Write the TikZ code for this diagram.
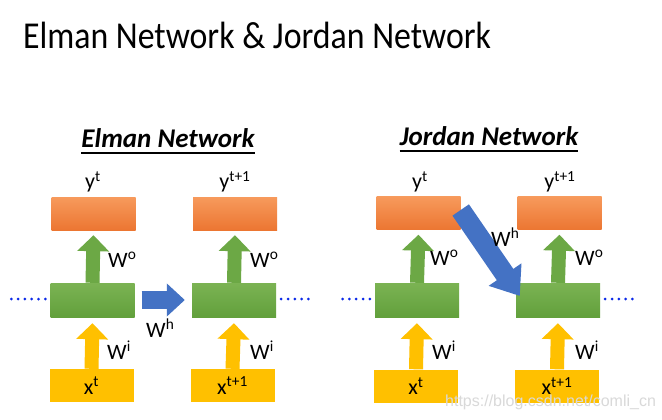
\documentclass[tikz,border=0pt]{standalone}
\usepackage{fontspec}
\setmainfont{Carlito}
\newfontfamily\wmfont{Liberation Sans}
\usetikzlibrary{arrows.meta,calc}
\definecolor{orT}{HTML}{F79A5C}
\definecolor{orB}{HTML}{EC7632}
\definecolor{grT}{HTML}{7BB353}
\definecolor{grB}{HTML}{62A03C}
\definecolor{grA}{HTML}{6CA845}
\definecolor{ylw}{HTML}{FFC000}
\definecolor{blu}{HTML}{4472C4}
\definecolor{dotb}{HTML}{0A28E8}
\begin{document}
\begin{tikzpicture}[x=1pt,y=-1pt,
  obox/.style={minimum width=84pt, minimum height=33pt, inner sep=0pt, top color=orT, bottom color=orB},
  gbox/.style={minimum width=84pt, minimum height=34pt, inner sep=0pt, top color=grT, bottom color=grB},
  ybox/.style={minimum width=84pt, minimum height=33pt, inner sep=0pt, fill=ylw, font=\fontsize{22}{24}\selectfont},
  lbl/.style={inner sep=0pt, font=\fontsize{22}{24}\selectfont},
  garrow/.style={draw=grA, line width=14pt, -{Triangle[width=31pt,length=16pt]}},
  yarrow/.style={draw=ylw, line width=14pt, -{Triangle[width=31pt,length=16pt]}},
  barrow/.style={draw=blu, line width=18pt, -{Triangle[width=32pt,length=18pt]}},
  dline/.style={draw=dotb, line width=3pt, line cap=round, dash pattern=on 0pt off 6.8pt},
  sect/.style={anchor=base, inner sep=0pt, font=\bfseries\itshape\fontsize{27}{32}\selectfont},
]
\useasboundingbox (0,0) rectangle (662,420);
\fill[white] (0,0) rectangle (662,420);

% title
\node[anchor=base, inner sep=0pt, font=\fontsize{38}{46}\selectfont] (title) at (257,49) {\scalebox{0.89}[1]{Elman Network \& Jordan Network}};

% section titles
\node[sect] (tE) at (168,147) {Elman Network};
\draw[line width=1.8pt] ($(tE.base west)+(0,6)$) -- ($(tE.base east)+(0,6)$);
\node[sect] (tJ) at (489,146) {Jordan Network};
\draw[line width=1.8pt] ($(tJ.base west)+(0,5)$) -- ($(tJ.base east)+(0,5)$);

% ===== Elman =====
\node[obox] (o1) at (93.5,213.5) {};
\node[obox] (o2) at (235,213.5) {};
\node[gbox] (g1) at (92.5,300) {};
\node[gbox] (g2) at (234,300) {};
\node[ybox] (x1) at (91.5,385.5) {x\textsuperscript{t}};
\node[ybox] (x2) at (232.5,385.5) {x\textsuperscript{t+1}};

\node[lbl] (ly1) at (93,182) {y\textsuperscript{t}};
\node[lbl] (ly2) at (235,182) {y\textsuperscript{t+1}};

\draw[garrow] (g1.north) -- ($(o1.south)+(0,5)$);
\draw[garrow] (g2.north) -- ($(o2.south)+(0,5)$);
\draw[yarrow] (x1.north) -- ($(g1.south)+(0,6)$);
\draw[yarrow] (x2.north) -- ($(g2.south)+(0,6)$);
\draw[barrow] ($(g1.east)+(7,0)$) -- ($(g2.west)+(-7,0)$);

\node[lbl, anchor=west] (wo1) at (108,260) {W\textsuperscript{o}};
\node[lbl, anchor=west] (wo2) at (250,260) {W\textsuperscript{o}};
\node[lbl, anchor=west] (wi1) at (107,350) {W\textsuperscript{i}};
\node[lbl, anchor=west] (wi2) at (250,350) {W\textsuperscript{i}};
\node[lbl, anchor=west] (wh1) at (146,328) {W\textsuperscript{h}};

\coordinate (e1) at (10,299);
\coordinate (e2) at (313,299);
\draw[dline] ($(g1.west)+(-5,-1)$) -- (e1);
\draw[dline] ($(g2.east)+(5,-1)$) -- (e2);

% ===== Jordan =====
\node[obox] (o3) at (418.5,213) {};
\node[obox] (o4) at (559.5,213) {};
\node[gbox] (g3) at (417,300) {};
\node[gbox] (g4) at (558,300) {};
\node[ybox] (x3) at (416,386) {x\textsuperscript{t}};
\node[ybox] (x4) at (557,386) {x\textsuperscript{t+1}};

\node[lbl] (ly3) at (420,182) {y\textsuperscript{t}};
\node[lbl] (ly4) at (560,182) {y\textsuperscript{t+1}};

\draw[garrow] (g3.north) -- ($(o3.south)+(0,5)$);
\draw[garrow] (g4.north) -- ($(o4.south)+(0,5)$);
\draw[yarrow] (x3.north) -- ($(g3.south)+(0,6)$);
\draw[yarrow] (x4.north) -- ($(g4.south)+(0,6)$);
\draw[barrow, line width=20pt, -{Triangle[width=38pt,length=26pt]}] ($(o3.east)+(0,-3)$) -- ($(g4.west)+(4,-4)$);

\node[lbl, anchor=west] (wo3) at (430,258) {W\textsuperscript{o}};
\node[lbl, anchor=west] (wo4) at (575,258) {W\textsuperscript{o}};
\node[lbl, anchor=west] (wi3) at (432,350) {W\textsuperscript{i}};
\node[lbl, anchor=west] (wi4) at (575,350) {W\textsuperscript{i}};
\node[lbl, anchor=west] (wh3) at (491,237) {W\textsuperscript{h}};

\coordinate (e3) at (336,299);
\coordinate (e4) at (638,299);
\draw[dline] ($(g3.west)+(-5,-1)$) -- (e3);
\draw[dline] ($(g4.east)+(5,-1)$) -- (e4);

% watermark
\node[anchor=base west, inner sep=0pt, text=gray!30, font=\wmfont\fontsize{16}{18}\selectfont] (wm) at (445,406) {https://blog.csdn.net/comli\_cn};
\end{tikzpicture}
\end{document}
